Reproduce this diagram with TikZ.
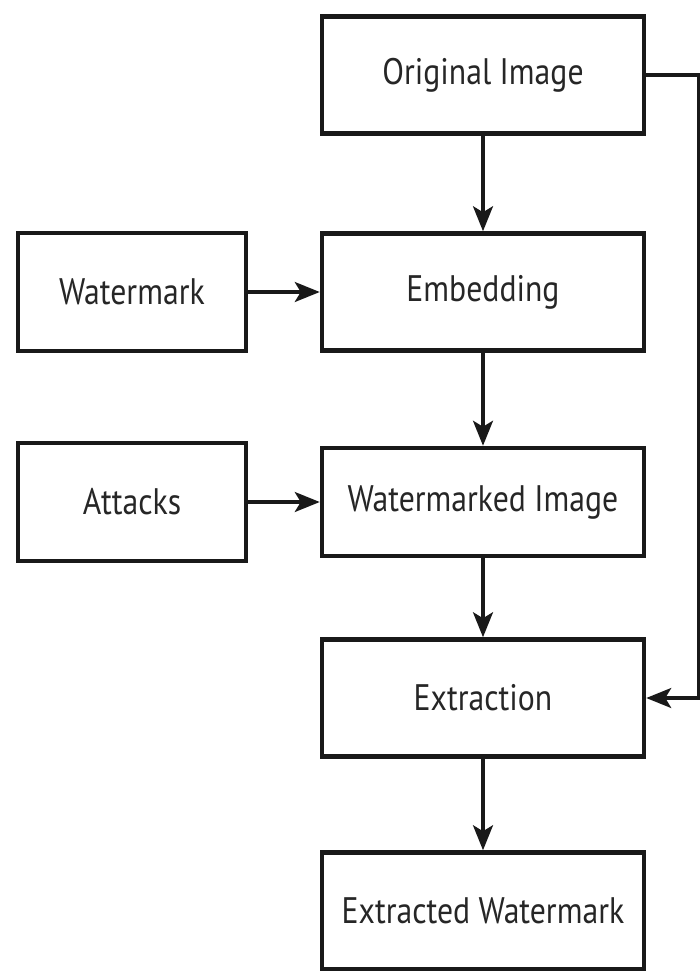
\documentclass[tikz,border=0pt]{standalone}
\usepackage{fontspec}
\setmainfont{PT Sans}
\newfontfamily\boxfont[FakeStretch=0.86]{PT Sans}
\usetikzlibrary{arrows.meta}

\begin{document}
\begin{tikzpicture}[x=0.02cm,y=-0.02cm]
		\tikzstyle{box}=[draw=black!90, line width=2.6pt, inner sep=0pt, text=black!85, font=\boxfont\fontsize{21}{23}\selectfont]
		\tikzstyle{bigbox}=[box, minimum width=6.44cm, minimum height=2.34cm]
		\tikzstyle{smallbox}=[box, minimum width=4.56cm, minimum height=2.36cm]
		\tikzstyle{link}=[draw=black!90, line width=1.8pt, -{Stealth[length=0.5cm, width=0.4cm, inset=0.12cm]}]
		\useasboundingbox (0,0) rectangle (700,971);
		\node [bigbox] (orig) at (483,75) {Original Image};
		\node [bigbox] (embed) at (483,292) {Embedding};
		\node [smallbox] (mark) at (132,292) {Watermark};
		\node [smallbox] (attack) at (132,502) {Attacks};
		\node [bigbox, minimum height=2.16cm] (marked) at (483,502) {Watermarked Image};
		\node [bigbox] (extract) at (483,698) {Extraction};
		\node [bigbox] (result) at (483,911) {Extracted Watermark};
		\coordinate (top) at (699,75);
		\coordinate (bottom) at (699,698);
		\draw [link] (orig) -- (embed);
		\draw [link] (mark) -- (embed);
		\draw [link] (embed) -- (marked);
		\draw [link] (attack) -- (marked);
		\draw [link] (marked) -- (extract);
		\draw [link] (extract) -- (result);
		\draw [link] (orig.east) -- (top) -- (bottom) -- (extract.east);
\end{tikzpicture}
\end{document}
